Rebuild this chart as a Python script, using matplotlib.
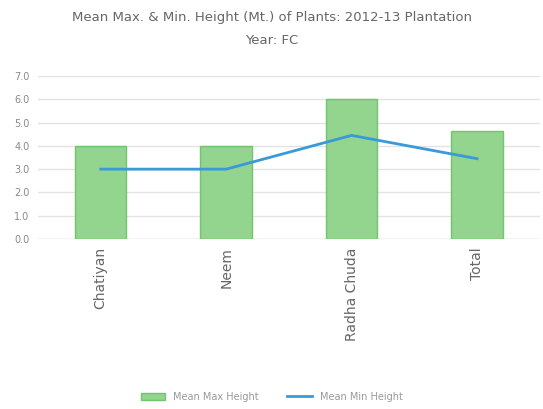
import matplotlib
matplotlib.use("Agg")
from matplotlib import pyplot as plt
from matplotlib.lines import Line2D
from matplotlib.patches import Patch

# data
plants = ["Chatiyan", "Neem", "Radha Chuda", "Total"]
mean_max_height = [4.0, 4.0, 6.0, 4.65]
mean_min_height = [3.0, 3.0, 4.45, 3.45]
y_ticks = [0, 1, 2, 3, 4, 5, 6, 7]

fig = plt.figure(figsize=(5.43, 4.09), dpi=100)
ax = fig.add_axes([0.07, 0.4156, 0.924, 0.3986])

x = list(range(len(plants)))
ax.bar(x, mean_max_height, width=0.41, color="#93d48e", edgecolor="#72c46e",
       linewidth=1, zorder=2)
ax.plot(x, mean_min_height, color="#3a9ad9", linewidth=2, zorder=3)

ax.set_xlim(-0.5, len(plants) - 0.5)
ax.set_ylim(0, 7)
ax.set_yticks(y_ticks)
ax.set_yticklabels(["%.1f" % v for v in y_ticks], fontsize=7, color="#888888")
ax.yaxis.grid(True, color="#e3e3e3", linewidth=1, zorder=0)
ax.set_xticks(x)
ax.set_xticklabels(plants, rotation=90, fontsize=10, color="#666666")
ax.tick_params(length=0, pad=6)
for s in ax.spines.values():
    s.set_visible(False)
ax.axhline(0, color="#d9d9d9", linewidth=1, zorder=1)

fig.text(0.5, 0.958, "Mean Max. & Min. Height (Mt.) of Plants: 2012-13 Plantation",
         ha="center", va="center", fontsize=9.5, color="#666666")
fig.text(0.5, 0.902, "Year: FC", ha="center", va="center", fontsize=9.5, color="#666666")

handles = [Patch(facecolor="#93d48e", edgecolor="#72c46e", label="Mean Max Height"),
           Line2D([0], [0], color="#3a9ad9", linewidth=2, label="Mean Min Height")]
fig.legend(handles=handles, loc="center", bbox_to_anchor=(0.5, 0.03), ncol=2,
           frameon=False, fontsize=7, labelcolor="#999999", handlelength=2.5,
           columnspacing=3)

fig.savefig("out.png", dpi=100)
